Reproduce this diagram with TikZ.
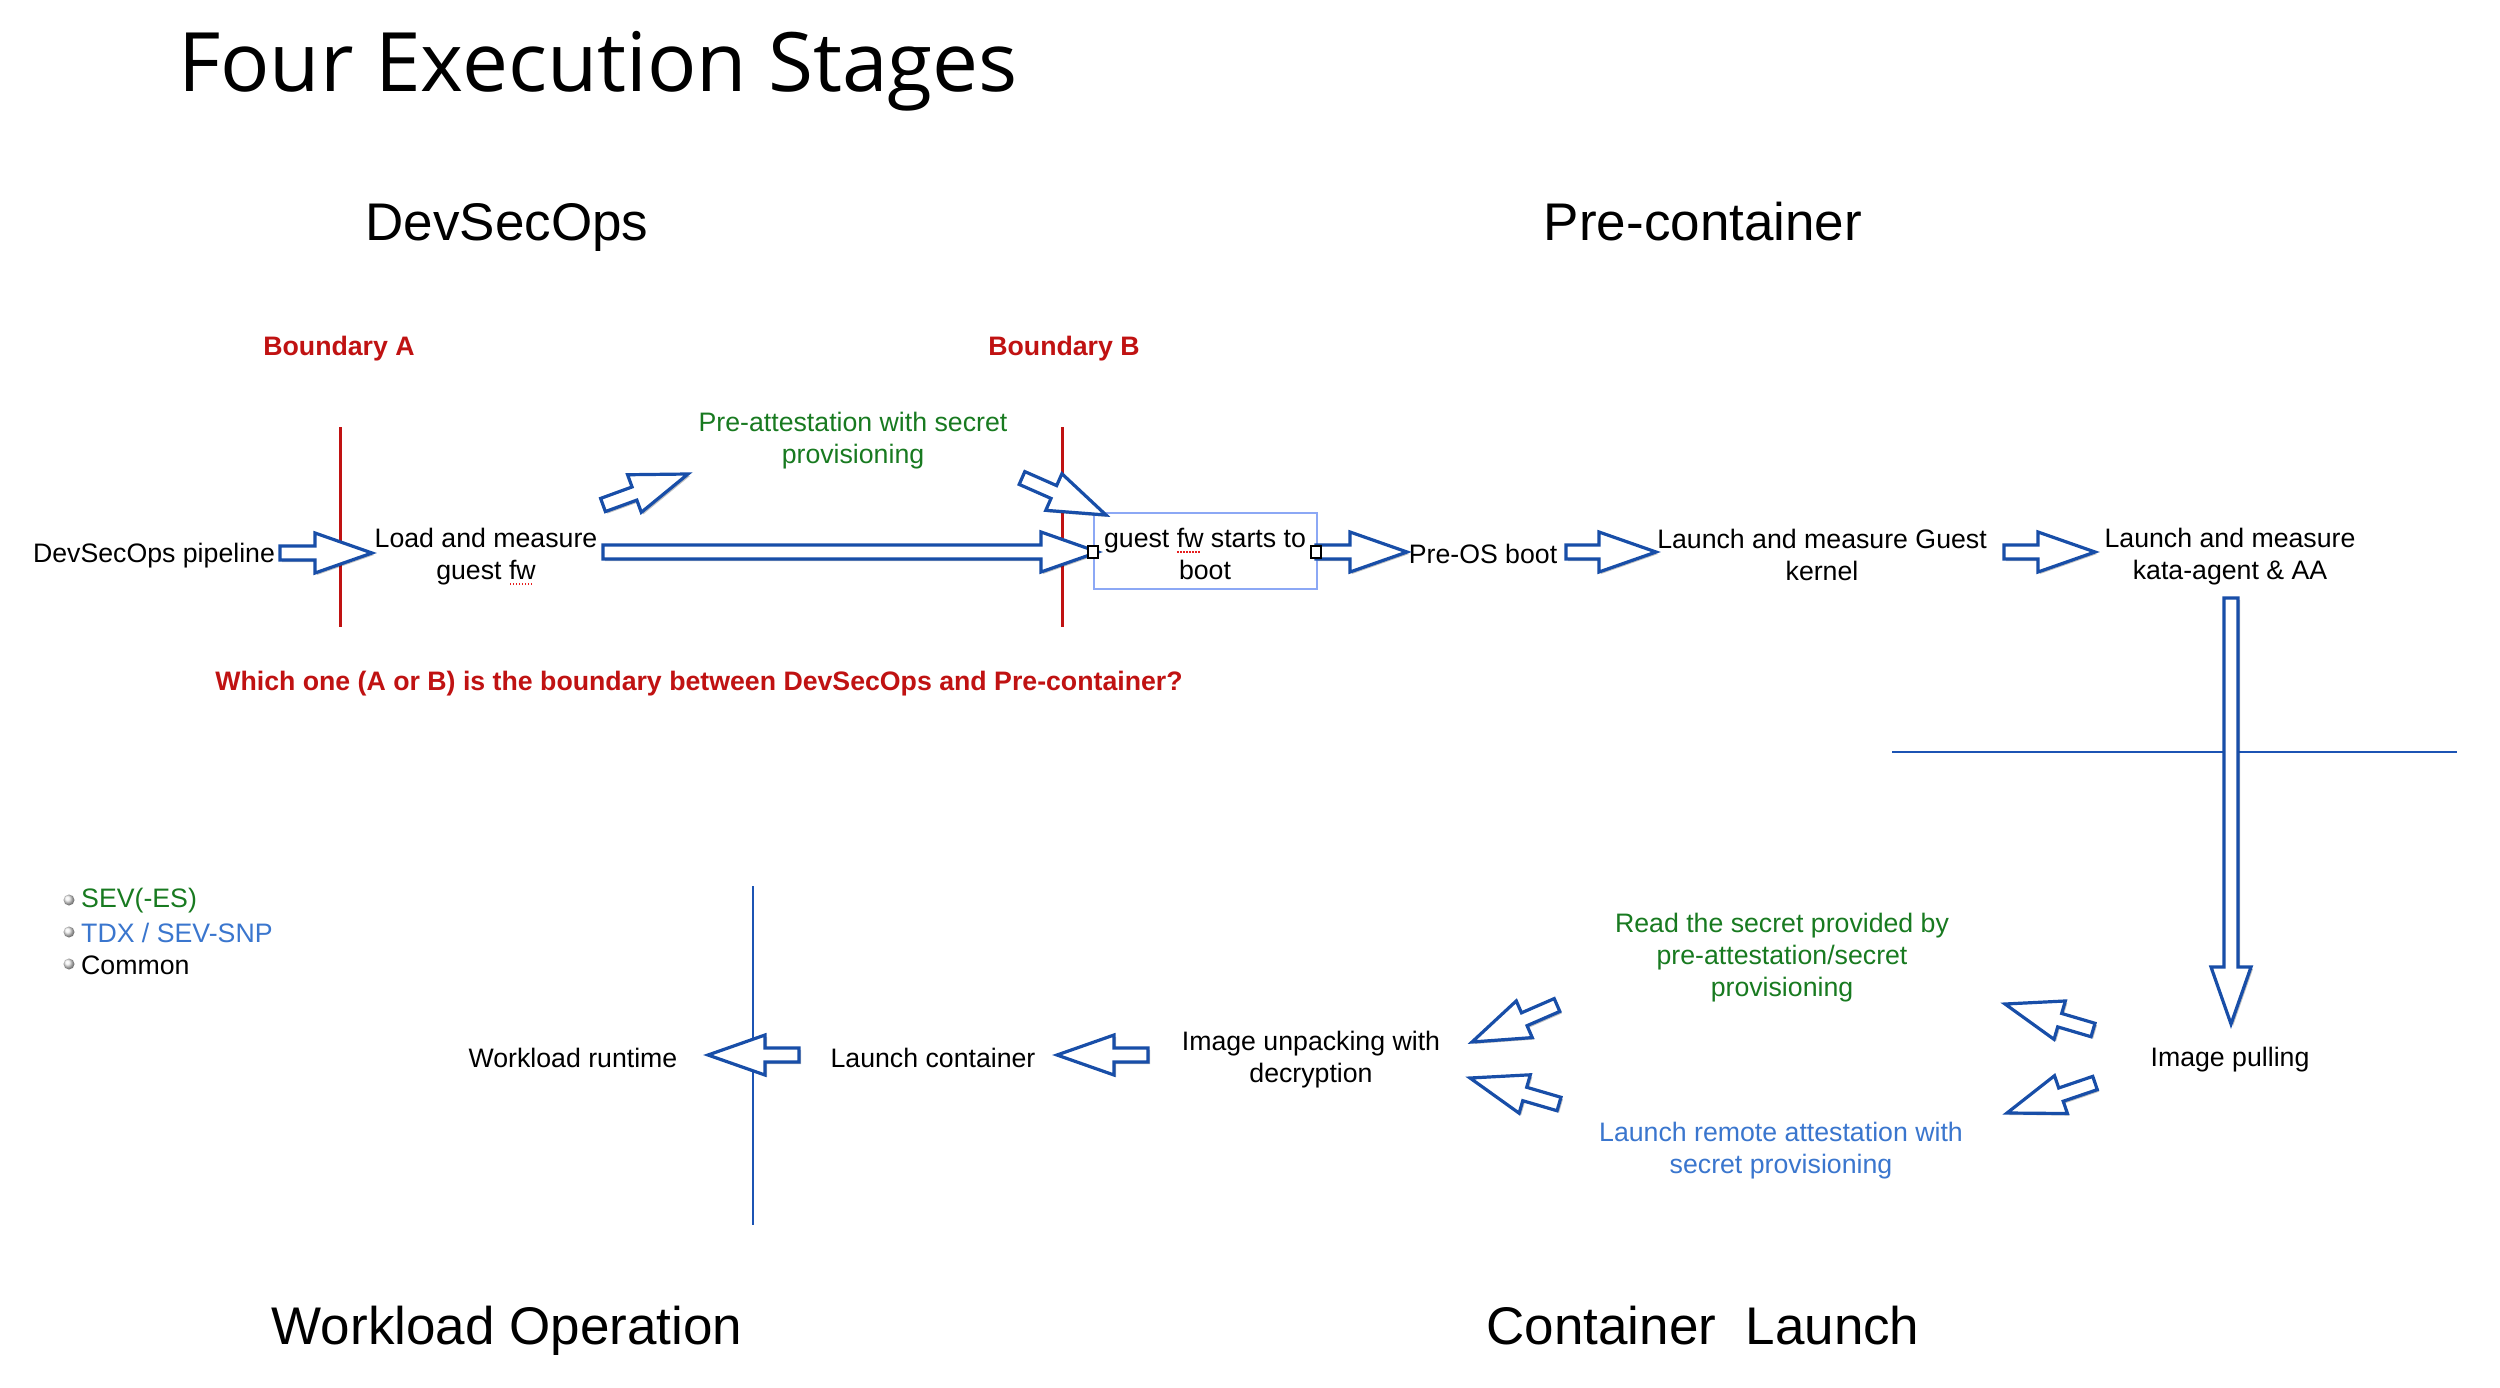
\documentclass[tikz,border=0pt]{standalone}
\usepackage{fontspec}
\setmainfont{Liberation Sans}
\newfontfamily\titlefont{Open Sans}
\usetikzlibrary{calc,shadows}
\definecolor{tgreen}{RGB}{24,122,32}
\definecolor{tblue}{RGB}{58,118,206}
\definecolor{tred}{RGB}{192,18,18}
\definecolor{arrblue}{RGB}{24,78,168}
\definecolor{boxblue}{RGB}{140,168,245}
\definecolor{lineblue}{RGB}{28,84,180}
\definecolor{spellred}{RGB}{230,30,30}
\newcommand\spellfw[1]{\setbox0=\hbox{#1}\rlap{\raisebox{-5pt}{\textcolor{spellred}{\hbox to \wd0{\leaders\hbox to 3pt{\hss\rule{1.8pt}{2pt}\hss}\hfill}}}}#1}
\newcommand\fatarr[2]{%
  \draw[fatarrow] let \p1=(#1), \p2=(#2),
    \n1={atan2(\y2-\y1,\x2-\x1)},
    \n2={veclen(\x2-\x1,\y2-\y1)},
    \n3={\n2-57pt} in
    ($(\p1)+(\n1+90:7pt)$) --
    ($(\p1)+(\n1:\n3)+(\n1+90:7pt)$) --
    ($(\p1)+(\n1:\n3)+(\n1+90:20pt)$) --
    ($(\p1)+(\n1:\n2)$) --
    ($(\p1)+(\n1:\n3)+(\n1-90:20pt)$) --
    ($(\p1)+(\n1:\n3)+(\n1-90:7pt)$) --
    ($(\p1)+(\n1-90:7pt)$) -- cycle;}
\tikzset{
  txt/.style={font=\fontsize{26.7}{32}\selectfont, align=center, inner sep=0pt},
  heading/.style={font=\fontsize{53}{60}\selectfont, inner sep=0pt, anchor=base},
  bnd/.style={font=\bfseries\fontsize{26.7}{32}\selectfont, text=tred, inner sep=0pt},
  redline/.style={draw=tred, line width=3pt},
  blueline/.style={draw=lineblue, line width=2.8pt},
  fatarrow/.style={draw=arrblue, line width=3.2pt, fill=white, line join=miter,
    drop shadow={shadow xshift=2pt, shadow yshift=-2pt, opacity=0.25, fill=black}},
  handle/.style={draw=black, fill=white, line width=1.2pt},
  bullet/.style={ball color=gray!12, draw=none},
}
\begin{document}
\begin{tikzpicture}[x=1pt,y=-1pt]
\fill[white] (0,0) rectangle (2500,1388);
\useasboundingbox (0,0) rectangle (2500,1388);

% title and stage headings
\node[font=\titlefont\fontsize{82}{90}\selectfont, inner sep=0pt, anchor=base] (title) at (598,92) {Four Execution Stages};
\node[heading] (hdev) at (507,241) {DevSecOps};
\node[heading] (hpre) at (1703,241) {Pre-container};
\node[heading] (hwork) at (507,1344) {Workload Operation};
\node[heading] (hcont) at (1703,1344) {Container\ \ Launch};

% boundaries
\node[bnd, anchor=base] (bA) at (339,355) {Boundary A};
\node[bnd, anchor=base] (bB) at (1064,355) {Boundary B};
\coordinate (bAt) at (340,427); \coordinate (bAb) at (340,627);
\coordinate (bBt) at (1062,427); \coordinate (bBb) at (1062,627);
\draw[redline] (bAt) -- (bAb);
\draw[redline] (bBt) -- (bBb);
\node[bnd] (question) at (699,684) {Which one (A or B) is the boundary between DevSecOps and Pre-container?};

% separator lines
\coordinate (hl1) at (1892,752); \coordinate (hl2) at (2457,752);
\coordinate (vl1) at (753,886); \coordinate (vl2) at (753,1225);
\draw[blueline] (hl1) -- (hl2);
\draw[blueline] (vl1) -- (vl2);

% top row nodes
\node[txt] (pipe) at (154,556) {DevSecOps pipeline};
\node[txt] (load) at (486,557) {Load and measure\\guest \spellfw{fw}};
\node[txt, text=tgreen] (preatt) at (853,441) {Pre-attestation with secret\\provisioning};
\node[draw=boxblue, line width=2pt, minimum width=223pt, minimum height=76pt, inner sep=0pt] (gfw) at (1205,551) {};
\node[txt] (gfwtxt) at (1205,554) {guest \spellfw{fw} starts to\\boot};
\node[txt] (preos) at (1483,554) {Pre-OS boot};
\node[txt] (kernel) at (1822,555) {Launch and measure Guest\\kernel};
\node[txt] (kata) at (2230,557) {Launch and measure\\kata-agent \& AA};

% bottom row nodes
\node[txt] (work) at (573,1058) {Workload runtime};
\node[txt] (launchc) at (933,1058) {Launch container};
\node[txt] (unpack) at (1311,1060) {Image unpacking with\\decryption};
\node[txt, text=tgreen] (readsec) at (1782,958) {Read the secret provided by\\pre-attestation/secret\\provisioning};
\node[txt, text=tblue] (remote) at (1781,1151) {Launch remote attestation with\\secret provisioning};
\node[txt] (pull) at (2230,1060) {Image pulling};

% legend
\shade[bullet] (69,900) circle (5.5);
\shade[bullet] (69,932) circle (5.5);
\shade[bullet] (69,964) circle (5.5);
\node[txt, anchor=west, text=tgreen] (lg1) at (81,901) {SEV(-ES)};
\node[txt, anchor=west, text=tblue] (lg2) at (81,933) {TDX / SEV-SNP};
\node[txt, anchor=west] (lg3) at (81,965) {Common};

% arrow end points
\coordinate (a1s) at (280,553);  \coordinate (a1e) at (372,553);
\coordinate (a2s) at (603,505);  \coordinate (a2e) at (688,474);
\coordinate (a3s) at (603,552);  \coordinate (a3e) at (1098,552);
\coordinate (a4s) at (1022,478); \coordinate (a4e) at (1106,515);
\coordinate (a5s) at (1316,552); \coordinate (a5e) at (1407,552);
\coordinate (a6s) at (1566,552); \coordinate (a6e) at (1656,552);
\coordinate (a7s) at (2004,552); \coordinate (a7e) at (2095,552);
\coordinate (a8s) at (2231,598); \coordinate (a8e) at (2231,1024);
\coordinate (a9s) at (799,1055); \coordinate (a9e) at (708,1055);
\coordinate (a10s) at (1148,1055); \coordinate (a10e) at (1057,1055);
\coordinate (a11s) at (1557,1005); \coordinate (a11e) at (1472,1042);
\coordinate (a12s) at (1559,1104); \coordinate (a12e) at (1470,1078);
\coordinate (a13s) at (2093,1030); \coordinate (a13e) at (2005,1004);
\coordinate (a14s) at (2095,1083); \coordinate (a14e) at (2007,1113);

\fatarr{a1s}{a1e}
\fatarr{a2s}{a2e}
\fatarr{a3s}{a3e}
\fatarr{a4s}{a4e}
\fatarr{a5s}{a5e}
\fatarr{a6s}{a6e}
\fatarr{a7s}{a7e}
\fatarr{a8s}{a8e}
\fatarr{a9s}{a9e}
\fatarr{a10s}{a10e}
\fatarr{a11s}{a11e}
\fatarr{a12s}{a12e}
\fatarr{a13s}{a13e}
\fatarr{a14s}{a14e}

% selection handles of the box
\draw[handle] (1088,546) rectangle (1098,558);
\draw[handle] (1311,546) rectangle (1321,558);
\end{tikzpicture}
\end{document}
